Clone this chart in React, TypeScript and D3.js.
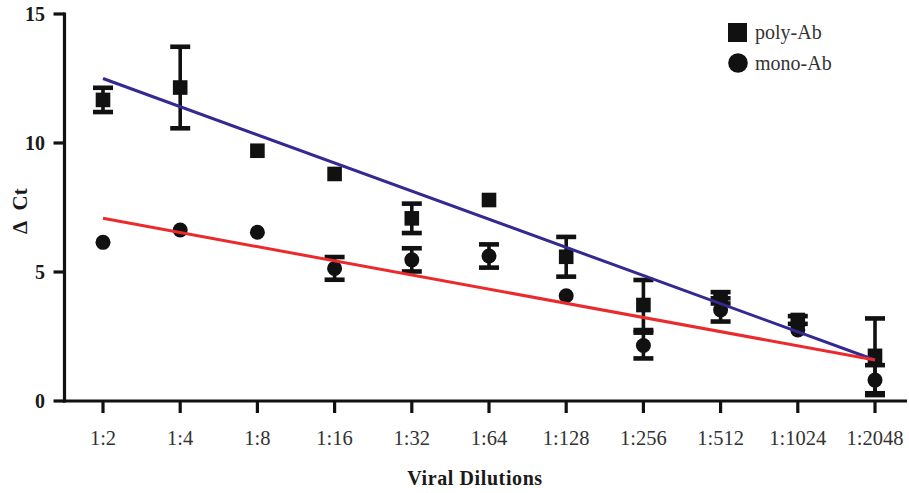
import React from "react";
import * as d3 from "d3";

const categories = ["1:2", "1:4", "1:8", "1:16", "1:32", "1:64", "1:128", "1:256", "1:512", "1:1024", "1:2048"];
const polyMean = [11.67, 12.15, 9.7, 8.8, 7.08, 7.79, 5.59, 3.72, 4.0, 3.14, 1.75];
const polyErr = [0.47, 1.58, 0, 0, 0.57, 0, 0.77, 0.97, 0.22, 0.15, 1.45];
const monoMean = [6.15, 6.63, 6.54, 5.14, 5.47, 5.62, 4.08, 2.15, 3.53, 2.75, 0.81];
const monoErr = [0, 0, 0, 0.44, 0.45, 0.45, 0, 0.5, 0.45, 0, 0.58];
const polyFit = [12.5, 1.59];
const monoFit = [7.08, 1.59];
const yTicks = [0, 5, 10, 15];
const seriesNames = ["poly-Ab", "mono-Ab"];

const W = 909;
const H = 493;
const FONT = "'Liberation Serif', 'Times New Roman', serif";
const BLUE = "#322a91";
const RED = "#ea2a2c";

export default function App() {
  const x = d3.scalePoint<string>().domain(categories).range([103, 875]);
  const y = d3.scaleLinear().domain([0, 15]).range([401, 14]);
  const axisX0 = 64.5;
  const axisY0 = 401;

  const errBars = (means: number[], errs: number[], key: string) =>
    means.map((m, i) => {
      const e = errs[i];
      if (!e) return null;
      const cx = x(categories[i])!;
      return (
        <g key={key + i}>
          <line x1={cx} x2={cx} y1={y(m + e)} y2={y(m - e)} stroke="#111" strokeWidth={3.6} />
          <line x1={cx - 10} x2={cx + 10} y1={y(m + e)} y2={y(m + e)} stroke="#111" strokeWidth={4.6} />
          <line x1={cx - 10} x2={cx + 10} y1={y(m - e)} y2={y(m - e)} stroke="#111" strokeWidth={4.6} />
        </g>
      );
    });

  const fitLine = d3
    .line<[number, number]>()
    .x((d) => d[0])
    .y((d) => d[1]);

  const first = x(categories[0])!;
  const last = x(categories[categories.length - 1])!;

  return (
    <svg
      width={W}
      height={H}
      style={{ position: "absolute", left: 0, top: 0, background: "#fff" }}
      fontFamily={FONT}
    >
      <rect width={W} height={H} fill="#fff" />
      {/* Y axis */}
      <line x1={axisX0} x2={axisX0} y1={y(15) - 1.5} y2={axisY0 + 1.5} stroke="#111" strokeWidth={3.2} />
      {yTicks.map((t) => (
        <g key={"yt" + t}>
          <line x1={axisX0 - 11} x2={axisX0} y1={y(t)} y2={y(t)} stroke="#111" strokeWidth={3.2} />
          <text x={45} y={y(t)} dy="0.36em" textAnchor="end" fontSize={20} fontWeight="bold" fill="#1a1a1a">
            {t}
          </text>
        </g>
      ))}
      {/* X axis */}
      <line x1={axisX0 - 1.6} x2={907} y1={axisY0} y2={axisY0} stroke="#111" strokeWidth={3.2} />
      {categories.map((c) => (
        <g key={"xt" + c}>
          <line x1={x(c)!} x2={x(c)!} y1={axisY0} y2={axisY0 + 12} stroke="#111" strokeWidth={3.2} />
          <text x={x(c)!} y={445} textAnchor="middle" fontSize={20.5} fill="#333">
            {c}
          </text>
        </g>
      ))}
      <text x={475} y={485} textAnchor="middle" fontSize={20} fontWeight="bold" fill="#1a1a1a" letterSpacing={0.6}>
        Viral Dilutions
      </text>
      <text
        transform={`translate(27, 211) rotate(-90)`}
        textAnchor="middle"
        fontSize={21}
        fontWeight="bold"
        fill="#1a1a1a"
        style={{ whiteSpace: "pre" }}
      >
        {"∆  Ct"}
      </text>

      {/* error bars */}
      {errBars(polyMean, polyErr, "pe")}
      {errBars(monoMean, monoErr, "me")}

      {/* markers */}
      {polyMean.map((m, i) => (
        <rect key={"ps" + i} x={x(categories[i])! - 7.3} y={y(m) - 7.3} width={14.6} height={14.6} fill="#111" />
      ))}
      {monoMean.map((m, i) => (
        <circle key={"mc" + i} cx={x(categories[i])!} cy={y(m)} r={7.5} fill="#111" />
      ))}

      {/* fit lines */}
      <path
        d={fitLine([
          [first, y(polyFit[0])],
          [last, y(polyFit[1])],
        ])!}
        stroke={BLUE}
        strokeWidth={3}
        fill="none"
      />
      <path
        d={fitLine([
          [first, y(monoFit[0])],
          [last, y(monoFit[1])],
        ])!}
        stroke={RED}
        strokeWidth={3}
        fill="none"
      />

      {/* legend */}
      <rect x={728} y={23} width={19} height={19} fill="#111" />
      <text x={755} y={39} fontSize={20} fill="#333">
        {seriesNames[0]}
      </text>
      <circle cx={738} cy={63} r={9.8} fill="#111" />
      <text x={755} y={70} fontSize={20} fill="#333">
        {seriesNames[1]}
      </text>
    </svg>
  );
}
